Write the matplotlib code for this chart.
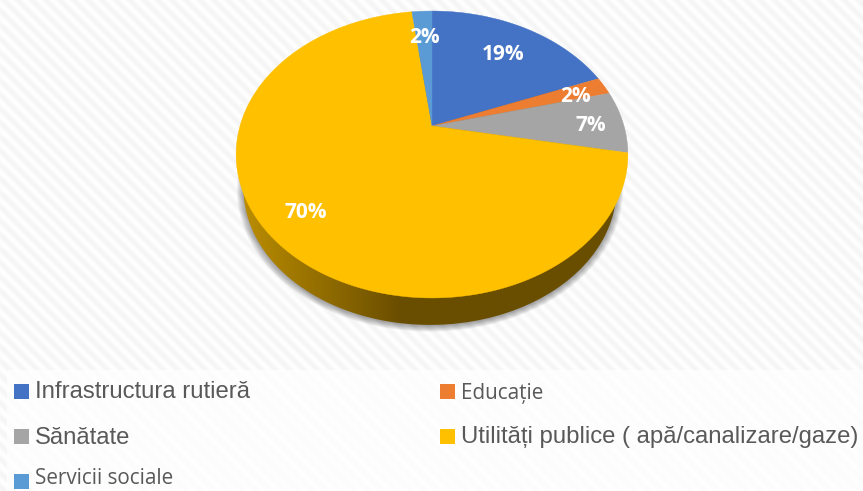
#!/usr/bin/env python3
# -*- coding: utf-8 -*-
import matplotlib
matplotlib.use("Agg")
import matplotlib.pyplot as plt
import numpy as np
from matplotlib.patches import Polygon, Rectangle

W, H = 863, 491

categories = [
    "Infrastructura rutieră",
    "Educație",
    "Sănătate",
    "Utilități publice ( apă/canalizare/gaze)",
    "Servicii sociale",
]
values = [19, 2, 7, 70, 2]
colors = ["#4472C4", "#ED7D31", "#A5A5A5", "#FFC000", "#5B9BD5"]

# pie centre and perspective of the tilted disc, in pixels
CX, CY = 432.0, 126.0
A, B, K = 192.0, 137.8, 0.1986


def project(theta):
    den = 1 + K * np.cos(theta)
    return CX + A * np.sin(theta) / den, CY - B * np.cos(theta) / den


def disc_points(scale=1.0, dx=0.0, dy=0.0):
    t = np.linspace(0, 2 * np.pi, 721)
    x, y = project(t)
    return np.column_stack([CX + dx + scale * (x - CX), CY + dy + scale * (y - CY)])


fig = plt.figure(figsize=(W / 100, H / 100), dpi=100)
ax = fig.add_axes([0, 0, 1, 1])
ax.set_xlim(0, W)
ax.set_ylim(H, 0)
ax.axis("off")

# striped slide background
yy, xx = np.mgrid[0:H, 0:W]
stripes = 0.5 + 0.5 * np.sin(2 * np.pi * (xx - yy) / 14.0)
ax.imshow(1.0 - 0.042 * stripes, cmap="gray", vmin=0, vmax=1, extent=(0, W, H, 0),
          aspect="auto", zorder=0, interpolation="bilinear")
ax.add_patch(Rectangle((7, 370), W - 7, H - 370, fc="white", ec="none", alpha=0.72, zorder=1))

# soft shadow under the pie
WALL_S, WALL_DX, WALL_DY = 0.952, -2.0, 35.2
for grow, alpha in zip(np.linspace(1.035, 1.0, 8), np.full(8, 0.05)):
    pts = disc_points(WALL_S * grow, WALL_DX, WALL_DY + 1)
    ax.add_patch(Polygon(pts, fc="black", ec="none", alpha=alpha, zorder=2))

# side wall with horizontal gradient
wall_shade = np.interp(np.arange(W), [240, 300, 400, W], [0.0, 0.38, 1.0, 1.0])
c0, c1 = np.array([0xBC, 0x8E, 0x00]) / 255, np.array([0x6A, 0x4E, 0x00]) / 255
wall_img = (c0[None, :] * (1 - wall_shade[:, None]) + c1[None, :] * wall_shade[:, None])[None, :, :]
im = ax.imshow(wall_img, extent=(0, W, H, 0), aspect="auto", zorder=3)
wall = Polygon(disc_points(WALL_S, WALL_DX, WALL_DY), transform=ax.transData, fc="none", ec="none")
ax.add_patch(wall)
im.set_clip_path(wall)

# top face, slices start at 12 o'clock and run clockwise
edges = np.cumsum([0] + values) / sum(values) * 2 * np.pi
for start, stop, color in zip(edges[:-1], edges[1:], colors):
    t = np.linspace(start, stop, 200)
    x, y = project(t)
    pts = np.column_stack([np.r_[CX, x], np.r_[CY, y]])
    ax.add_patch(Polygon(pts, fc=color, ec=color, lw=0.3, zorder=4))

# data labels
label_pos = [(503, 54), (575, 96), (591, 125), (306, 213), (424, 37)]
for val, (lx, ly) in zip(values, label_pos):
    ax.text(lx, ly, f"{val}%", color="white", fontsize=15, fontweight="bold",
            family="Open Sans", ha="center", va="center", zorder=5)

# legend
legend_pos = [(14, 391), (440, 391), (14, 436), (440, 436), (14, 481)]
legend_font = [("Liberation Sans", 17.2), ("Open Sans", 14.9), ("Liberation Sans", 17.2),
               ("Liberation Sans", 17.2), ("Open Sans", 14.9)]
for name, color, (lx, ly), (fam, size) in zip(categories, colors, legend_pos, legend_font):
    ax.add_patch(Rectangle((lx, ly - 7.5), 15, 15, fc=color, ec="none", zorder=5))
    # keep the last row's descent box inside the figure
    ax.text(lx + 21, min(ly + 7.5, H - 7), name, color="#595959", fontsize=size, family=fam,
            ha="left", va="baseline", zorder=5)

fig.savefig("out.png", dpi=100)
plt.close(fig)
